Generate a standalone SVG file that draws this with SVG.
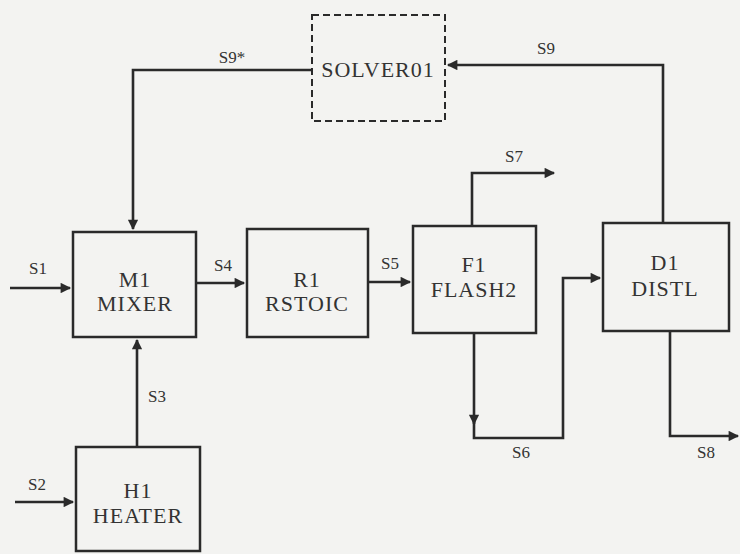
<svg xmlns="http://www.w3.org/2000/svg" width="740" height="554" viewBox="0 0 740 554">
<style>
.box{fill:none;stroke:#2a2a2a;stroke-width:2.5}
.dash{fill:none;stroke:#2a2a2a;stroke-width:2;stroke-dasharray:7,4}
.ln{fill:none;stroke:#2a2a2a;stroke-width:2.6;marker-end:url(#ah)}
.ln2{fill:none;stroke:#2a2a2a;stroke-width:2.6}
.t{font-family:"Liberation Serif",serif;font-size:22px;fill:#333;text-anchor:middle;letter-spacing:1px}
.l{font-family:"Liberation Serif",serif;font-size:17px;fill:#333;text-anchor:middle}
</style>
<defs>
<marker id="ah" viewBox="0 0 10 10" refX="9" refY="5" markerWidth="4.5" markerHeight="4" orient="auto" markerUnits="strokeWidth">
<path d="M0,0 L10,5 L0,10 z" fill="#2a2a2a"/>
</marker>
</defs>
<rect width="740" height="554" fill="#f3f3f1"/>
<g id="solver">
<rect class="dash" x="312" y="15" width="133" height="106"/>
<text class="t" x="378" y="77">SOLVER01</text>
</g>
<g id="mixer">
<rect class="box" x="73" y="232" width="123" height="105"/>
<text class="t" x="135" y="287">M1</text>
<text class="t" x="135" y="311">MIXER</text>
</g>
<g id="rstoic">
<rect class="box" x="247" y="229" width="121" height="108"/>
<text class="t" x="307" y="287">R1</text>
<text class="t" x="307" y="311">RSTOIC</text>
</g>
<g id="flash">
<rect class="box" x="413" y="226" width="123" height="107"/>
<text class="t" x="474" y="272">F1</text>
<text class="t" x="474" y="297">FLASH2</text>
</g>
<g id="distl">
<rect class="box" x="603" y="223" width="126" height="108"/>
<text class="t" x="665" y="270">D1</text>
<text class="t" x="665" y="296">DISTL</text>
</g>
<g id="heater">
<rect class="box" x="76" y="447" width="124" height="104"/>
<text class="t" x="138" y="498">H1</text>
<text class="t" x="138" y="523">HEATER</text>
</g>
<g id="connectors">
<path class="ln" d="M312,70 H133 V229"/>
<text class="l" x="232" y="63">S9*</text>
<path class="ln" d="M663,223 V65 H448"/>
<text class="l" x="546" y="54">S9</text>
<path class="ln" d="M10,288 H70"/>
<text class="l" x="38" y="274">S1</text>
<path class="ln" d="M196,283 H244"/>
<text class="l" x="223" y="271">S4</text>
<path class="ln" d="M368,282 H410"/>
<text class="l" x="390" y="269">S5</text>
<path class="ln" d="M472,226 V173 H554"/>
<text class="l" x="514" y="162">S7</text>
<path class="ln" d="M474,333 V424"/>
<path class="ln" d="M474,420 V438 H563 V278 H600"/>
<text class="l" x="521" y="458">S6</text>
<path class="ln" d="M670,331 V436 H738"/>
<text class="l" x="706" y="458">S8</text>
<path class="ln" d="M137,447 V340"/>
<text class="l" x="157" y="402">S3</text>
<path class="ln" d="M15,502 H73"/>
<text class="l" x="37" y="490">S2</text>
</g>
</svg>
